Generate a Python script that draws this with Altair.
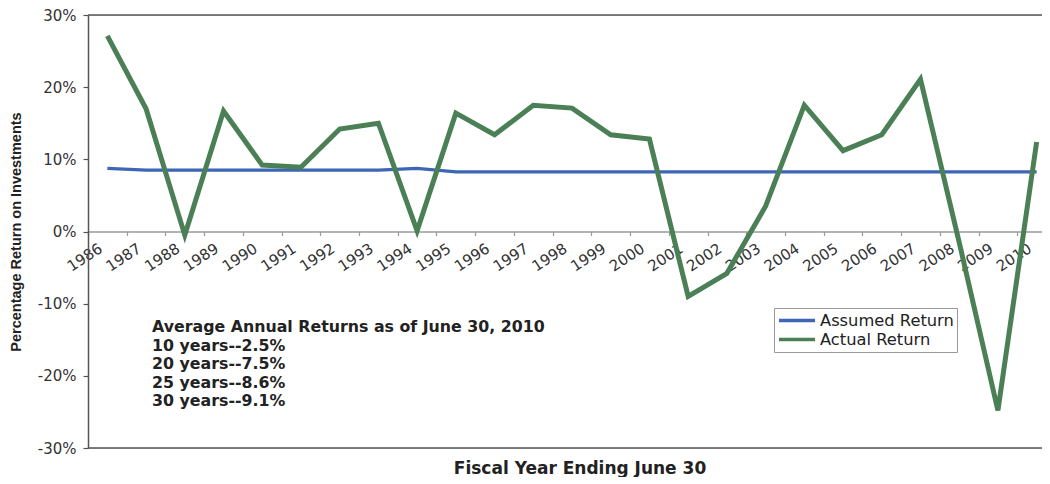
import altair as alt
import pandas as pd

# ---- data ----
years = ["1986", "1987", "1988", "1989", "1990", "1991", "1992", "1993", "1994",
         "1995", "1996", "1997", "1998", "1999", "2000", "2001", "2002", "2003",
         "2004", "2005", "2006", "2007", "2008", "2009", "2010"]
actual_return = [27.1, 17.0, -0.5, 16.7, 9.2, 8.9, 14.2, 15.0, 0.1,
                 16.4, 13.4, 17.5, 17.1, 13.4, 12.8, -9.0, -5.8, 3.5,
                 17.5, 11.2, 13.4, 21.1, -1.5, -24.8, 12.4]
assumed_return = [8.75, 8.5, 8.5, 8.5, 8.5, 8.5, 8.5, 8.5, 8.75,
                  8.25, 8.25, 8.25, 8.25, 8.25, 8.25, 8.25, 8.25, 8.25,
                  8.25, 8.25, 8.25, 8.25, 8.25, 8.25, 8.25]
series_names = ["Assumed Return", "Actual Return"]
y_ticks = [-30, -20, -10, 0, 10, 20, 30]
note_lines = ["Average Annual Returns as of June 30, 2010",
              "10 years--2.5%",
              "20 years--7.5%",
              "25 years--8.6%",
              "30 years--9.1%"]
note_year = ["1987"]
note_value = [-12.3]

BLUE = "#3d66b4"
GREEN = "#4b7f56"
FRAME = "#555555"
ZERO = "#9a9a9a"
TEXT = "#222222"

W, H = 968, 433

df = pd.DataFrame({
    "year": years * 2,
    "value": assumed_return + actual_return,
    "series": [series_names[0]] * len(years) + [series_names[1]] * len(years),
})
note_df = pd.DataFrame({"year": note_year, "value": note_value,
                        "note": ["\n".join(note_lines)]})

x_enc = alt.X(
    "year:O",
    scale=alt.Scale(type="band", domain=years, paddingInner=0, paddingOuter=0),
    axis=alt.Axis(
        title=None, orient="bottom", offset=-H / 2,
        tickBand="extent", tickSize=4, tickColor=ZERO, tickWidth=1.2,
        domainColor=ZERO, domainWidth=1.5,
        labelAngle=-33, labelAlign="right", labelBaseline="middle",
        labelPadding=11, labelOffset=-7,
        labelFont="DejaVu Sans", labelFontSize=15, labelColor="#333333",
        grid=False,
    ),
)
y_enc = alt.Y(
    "value:Q",
    scale=alt.Scale(domain=[-30, 30], nice=False, zero=False),
    axis=alt.Axis(
        title="Percentage Return on Investments",
        titleFont="Liberation Sans", titleFontSize=14.5, titleFontWeight="bold",
        titleColor=TEXT, titlePadding=14,
        values=y_ticks, labelExpr="datum.value + '%'",
        labelFont="DejaVu Sans", labelFontSize=15, labelColor="#333333",
        labelPadding=7, tickSize=5, tickColor=FRAME, tickWidth=1.2,
        domainColor=FRAME, domainWidth=1.5, grid=False,
    ),
)
color_enc = alt.Color(
    "series:N",
    scale=alt.Scale(domain=series_names, range=[BLUE, GREEN]),
    legend=alt.Legend(
        title=None, orient="none", legendX=686, legendY=293,
        direction="vertical", symbolType="stroke", symbolSize=1296,
        symbolStrokeWidth=3.5, clipHeight=19,
        labelFont="DejaVu Sans", labelFontSize=16.3,
        labelColor=TEXT, labelOffset=3, strokeColor="#999999",
        fillColor="white", padding=3, rowPadding=0,
    ),
)

base = alt.Chart(df)
blue_line = base.transform_filter(alt.datum.series == series_names[0]).mark_line(
    strokeWidth=3.2).encode(x=x_enc, y=y_enc, color=color_enc)
green_line = base.transform_filter(alt.datum.series == series_names[1]).mark_line(
    strokeWidth=5, strokeJoin="miter").encode(x=x_enc, y=y_enc, color=color_enc)

top_rule = alt.Chart(pd.DataFrame({"v": [y_ticks[-1]]})).mark_rule(
    color=FRAME, strokeWidth=1.5).encode(y=alt.Y("v:Q"))
bottom_rule = alt.Chart(pd.DataFrame({"v": [y_ticks[0]]})).mark_rule(
    color=FRAME, strokeWidth=1.5).encode(y=alt.Y("v:Q"))

note = alt.Chart(note_df).mark_text(
    align="left", baseline="top", lineBreak="\n", lineHeight=18.5,
    font="DejaVu Sans", fontSize=15.8, fontWeight="bold", color=TEXT, dx=6,
).encode(x=alt.X("year:O"), y=alt.Y("value:Q"), text="note:N")

chart = alt.layer(top_rule, bottom_rule, blue_line, green_line, note).properties(
    width=W, height=H,
    padding={"left": 0, "top": 0, "right": -15, "bottom": 0},
    title=alt.TitleParams(
        "Fiscal Year Ending June 30", orient="bottom", anchor="middle",
        frame="group", offset=5, dx=8,
        font="DejaVu Sans", fontSize=17, fontWeight="bold", color=TEXT,
    ),
).configure_view(stroke="transparent").configure(background="white")

chart.save("out.html", embed_options={"renderer": "svg", "actions": False})
